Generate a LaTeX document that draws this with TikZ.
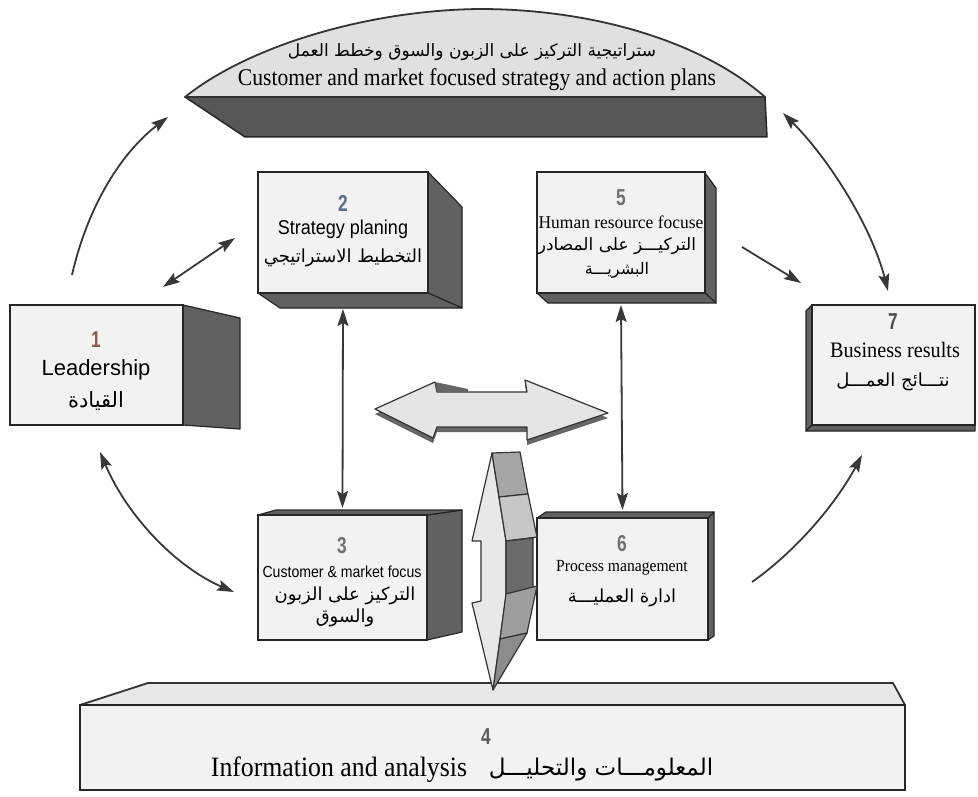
\documentclass[tikz,border=0pt]{standalone}
\usepackage{fontspec}
\usepackage{graphicx}
\usetikzlibrary{arrows.meta}
\setmainfont{Liberation Serif}
\newfontfamily\labsans{Liberation Sans}
\newfontfamily\arabicfont[Script=Arabic]{DejaVu Sans}
\TeXXeTstate=1
\newcommand{\artxt}[1]{{\arabicfont\beginR #1\endR}}
\newcommand{\fsz}[1]{\fontsize{#1}{#1}\selectfont}
\newcommand{\narrow}[2]{\scalebox{#1}[1]{#2}}
\definecolor{numbrown}{HTML}{8A5A50}
\definecolor{numblue}{HTML}{5A6E8C}
\definecolor{numgray}{HTML}{707070}

\begin{document}
\begin{tikzpicture}[x=1pt,y=-1pt,
  frontface/.style={draw=black!85, line width=2.2pt, fill=black!5, inner sep=0pt, outer sep=0pt},
  darkface/.style={draw=black!85, line width=1.2pt, fill=black!62, line join=round},
  lightface/.style={draw=black!80, line width=1.2pt, line join=round},
  conn/.style={draw=black!78, line width=1.8pt},
  oneway/.style={conn, -{Stealth[length=17pt,width=11pt,inset=3pt]}},
  twoway/.style={conn, {Stealth[length=17pt,width=11pt,inset=3pt]}-{Stealth[length=17pt,width=11pt,inset=3pt]}},
  numlbl/.style={font=\labsans\bfseries\fsz{23}, inner sep=0pt},
  lbl/.style={inner sep=0pt}
]
\useasboundingbox (0,0) rectangle (978,797);
\fill[white] (0,0) rectangle (978,797);

% ---------- top banner: dome with dark slab ----------
\draw[darkface, fill=black!66, line width=1.5pt] (185,97) -- (765,97) -- (767,137) -- (245,137) -- cycle;
\draw[lightface, fill=black!12, line width=1.8pt]
  (185,97) .. controls (250,45) and (370,10) .. (480,9)
           .. controls (590,9) and (700,40) .. (765,97) -- cycle;
\node[lbl, font=\fsz{17}] (dar) at (472,52) {\artxt{ستراتيجية التركيز على الزبون والسوق وخطط العمل}};
\node[lbl, font=\fsz{24}] (den) at (477,80) {\narrow{0.9}{Customer and market focused strategy and action plans}};

% ---------- side faces of the boxes ----------
\draw[darkface] (183,305) -- (240,318) -- (240,429) -- (183,425) -- cycle;
\draw[darkface] (428,172) -- (462,207) -- (462,308) -- (428,293) -- cycle;
\draw[darkface] (258,293) -- (428,293) -- (462,308) -- (280,308) -- cycle;
\draw[darkface] (705,173) -- (716,188) -- (716,303) -- (705,293) -- cycle;
\draw[darkface] (537,293) -- (705,293) -- (716,303) -- (548,303) -- cycle;
\draw[darkface] (806,311) -- (812,305) -- (812,425) -- (806,431) -- cycle;
\draw[darkface] (806,431) -- (812,425) -- (975,425) -- (975,431) -- cycle;
\draw[darkface] (427,515) -- (462,510) -- (462,632) -- (427,640) -- cycle;
\draw[darkface] (258,515) -- (276,510) -- (462,510) -- (427,515) -- cycle;
\draw[darkface] (708,518) -- (714,512) -- (714,636) -- (708,640) -- cycle;
\draw[darkface] (537,518) -- (546,512) -- (714,512) -- (708,518) -- cycle;
\draw[lightface, fill=black!9, line width=1.8pt] (80,705) -- (148,683) -- (893,683) -- (905,705) -- cycle;

% ---------- front faces ----------
\node[frontface, minimum width=173pt, minimum height=120pt] (b1) at (96.5,365) {};
\node[frontface, minimum width=170pt, minimum height=121pt] (b2) at (343,232.5) {};
\node[frontface, minimum width=168pt, minimum height=121pt] (b5) at (621,232.5) {};
\node[frontface, minimum width=163pt, minimum height=120pt] (b7) at (893.5,365) {};
\node[frontface, minimum width=169pt, minimum height=125pt] (b3) at (342.5,577.5) {};
\node[frontface, minimum width=171pt, minimum height=122pt] (b6) at (622.5,579) {};
\node[frontface, minimum width=825pt, minimum height=85pt] (b4) at (492.5,747.5) {};

% ---------- box texts ----------
\node[numlbl, text=numbrown] (n1) at (96,340) {\narrow{0.75}{1}};
\node[lbl, font=\labsans\fsz{22}] (l1) at (96,370) {Leadership};
\node[lbl, font=\fsz{21}] (a1) at (96,401) {\artxt{القيادة}};

\node[numlbl, text=numblue] (n2) at (343,203) {\narrow{0.75}{2}};
\node[lbl, font=\labsans\fsz{20}] (l2) at (343,229) {\narrow{0.9}{Strategy planing}};
\node[lbl, font=\fsz{18}] (a2) at (343,258) {\artxt{التخطيط الاستراتيجي}};

\node[numlbl, text=numgray] (n5) at (621,198) {\narrow{0.75}{5}};
\node[lbl, font=\fsz{18}] (l5) at (621,222) {\narrow{0.97}{Human resource focuse}};
\node[lbl, font=\fsz{17}] (a5) at (617,246) {\artxt{التركيـــز على المصادر}};
\node[lbl, font=\fsz{16}] (a5b) at (617,270) {\artxt{البشريـــة}};

\node[numlbl, text=black!70] (n7) at (893,322) {\narrow{0.75}{7}};
\node[lbl, font=\fsz{22}] (l7) at (895,350) {\narrow{0.92}{Business results}};
\node[lbl, font=\fsz{18}] (a7) at (893,382) {\artxt{نتـــائج العمـــل}};

\node[numlbl, text=numgray] (n3) at (342,546) {\narrow{0.75}{3}};
\node[lbl, font=\labsans\fsz{16}] (l3) at (342,572) {\narrow{0.88}{Customer \& market focus}};
\node[lbl, font=\fsz{18}] (a3) at (345,596) {\artxt{التركيز على الزبون}};
\node[lbl, font=\fsz{18}] (a3b) at (345,618) {\artxt{والسوق}};

\node[numlbl, text=numgray] (n6) at (622,544) {\narrow{0.75}{6}};
\node[lbl, font=\fsz{17}] (l6) at (622,568) {\narrow{0.92}{Process management}};
\node[lbl, font=\fsz{18}] (a6) at (622,598) {\artxt{ادارة العمليـــة}};

\node[numlbl, text=black!65] (n4) at (486,737) {\narrow{0.75}{4}};
\node[lbl, font=\fsz{28}] (l4) at (339,770) {\narrow{0.92}{Information and analysis}};
\node[lbl, font=\fsz{23}] (a4) at (601,770) {\artxt{المعلومـــات والتحليـــل}};

% ---------- horizontal 3D double arrow ----------
\fill[black!60] (375,414) -- (435,387) -- (437,397) -- (527,397) -- (525,385) -- (608,418) -- (527,445) -- (527,432) -- (437,432) -- (433,443) -- cycle;
\draw[lightface, fill=black!10] (375,409) -- (435,382) -- (437,392) -- (527,392) -- (525,380) -- (608,413) -- (527,440) -- (527,427) -- (437,427) -- (433,438) -- cycle;
\fill[black!60] (435,382) -- (468,389) -- (468,392) -- (437,392) -- cycle;

% ---------- vertical 3D double arrow ----------
\draw[lightface, fill=black!9] (492,453) -- (472,541) -- (481,541) -- (481,601) -- (472,603) -- (493,690) -- (506,596) -- (506,541) -- cycle;
\draw[lightface, fill=black!35] (492,453) -- (520,452) -- (528,494) -- (499,497) -- cycle;
\draw[lightface, fill=black!22] (499,497) -- (528,494) -- (537,537) -- (506,541) -- cycle;
\draw[lightface, fill=black!58] (506,541) -- (533,538) -- (533,588) -- (506,594) -- cycle;
\draw[lightface, fill=black!38] (506,594) -- (537,586) -- (527,633) -- (500,639) -- cycle;
\draw[lightface, fill=black!45] (500,639) -- (527,633) -- (493,690) -- cycle;

% ---------- connector end points ----------
\coordinate (p12a) at (163,287);
\coordinate (p12b) at (235,238);
\coordinate (p1up) at (72,275);
\coordinate (pdomeL) at (168,117);
\coordinate (p13a) at (100,452);
\coordinate (p13b) at (234,592);
\coordinate (pdomeR) at (783,113);
\coordinate (p7top) at (888,291);
\coordinate (p57a) at (742,247);
\coordinate (p57b) at (801,283);
\coordinate (p67a) at (752,582);
\coordinate (p67b) at (862,455);

% ---------- connectors ----------
\draw[twoway] ([yshift=-16pt]b2.south) -- ([yshift=7pt]b3.north);
\draw[twoway] ([yshift=-12pt]b5.south) -- ([yshift=8pt]b6.north);
\draw[twoway] (p12a) -- (p12b);
\draw[oneway] (p1up) .. controls (88,205) and (122,152) .. (pdomeL);
\draw[twoway] (p13a) .. controls (128,518) and (178,568) .. (p13b);
\draw[twoway] (pdomeR) .. controls (830,160) and (872,228) .. (p7top);
\draw[oneway] (p57a) -- (p57b);
\draw[oneway] (p67a) .. controls (800,548) and (838,500) .. (p67b);
\end{tikzpicture}
\end{document}
